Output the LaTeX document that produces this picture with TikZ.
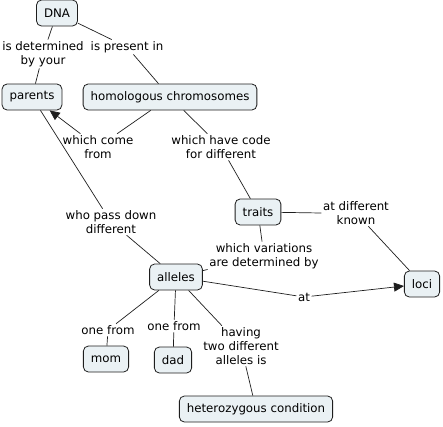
\documentclass[tikz,border=0pt]{standalone}
\usepackage{fontspec}
\setmainfont{DejaVu Sans}
\usetikzlibrary{arrows.meta}
\definecolor{boxfill}{RGB}{234,241,244}
\definecolor{linec}{RGB}{30,30,30}
\tikzset{
  concept/.style={draw=linec, fill=boxfill, rounded corners=5pt, line width=0.8pt,
    minimum height=26pt, inner xsep=7.5pt, inner ysep=3pt,
    font=\fontsize{11.8}{14}\selectfont},
  lbl/.style={align=center, inner sep=1.5pt, font=\fontsize{11.8}{14}\selectfont},
  conn/.style={draw=linec, line width=0.7pt},
  arr/.style={conn, -{Triangle[length=10pt,width=9pt]}}
}
\begin{document}
\begin{tikzpicture}[x=1pt,y=-1pt]
\useasboundingbox (0,0) rectangle (443,426);
% concepts
\node[concept] (dna) at (57,13) {DNA};
\node[concept] (parents) at (32,97) {parents};
\node[concept] (hom) at (170,97) {homologous chromosomes};
\node[concept] (traits) at (258,212) {traits};
\node[concept] (loci) at (422,284) {loci};
\node[concept] (alleles) at (176,277) {alleles};
\node[concept] (mom) at (106,359) {mom};
\node[concept] (dad) at (173,360) {dad};
\node[concept] (het) at (256,409) {heterozygous condition};
% labels
\node[lbl] (l1) at (43,54) {is determined\\by your};
\node[lbl] (l2) at (127,47) {is present in};
\node[lbl] (l3) at (98,147) {which come\\from};
\node[lbl] (l4) at (221,147) {which have code\\for different};
\node[lbl] (l5) at (111,222) {who pass down\\different};
\node[lbl] (l6) at (356,213) {at different\\known};
\node[lbl] (l7) at (264,256) {which variations\\are determined by};
\node[lbl] (l8) at (304,297) {at};
\node[lbl] (l9) at (108,330) {one from};
\node[lbl] (l10) at (174,326) {one from};
\node[lbl] (l11) at (241,346) {having\\two different\\alleles is};
% connectors
\draw[conn] (dna) -- (l1);
\draw[conn] (l1) -- (parents);
\draw[conn] (dna) -- (l2);
\draw[conn] (l2) -- (hom);
\draw[conn] (hom) -- (l3);
\draw[arr] (l3) -- (parents);
\draw[conn] (hom) -- (l4);
\draw[conn] (l4) -- (traits);
\draw[conn] (parents) -- (l5);
\draw[conn] (l5) -- (alleles);
\draw[conn] (traits) -- (l6.west);
\draw[conn] (l6) -- (loci);
\draw[conn] (traits) -- (l7);
\draw[conn] (l7) -- (alleles);
\draw[conn] (alleles) -- (l8);
\draw[arr] (l8) -- (loci);
\draw[conn] (alleles) -- (l9);
\draw[conn] (l9) -- (mom);
\draw[conn] (alleles) -- (l10);
\draw[conn] (l10) -- (dad);
\draw[conn] (alleles) -- (l11);
\draw[conn] (l11) -- (het);
\end{tikzpicture}
\end{document}
